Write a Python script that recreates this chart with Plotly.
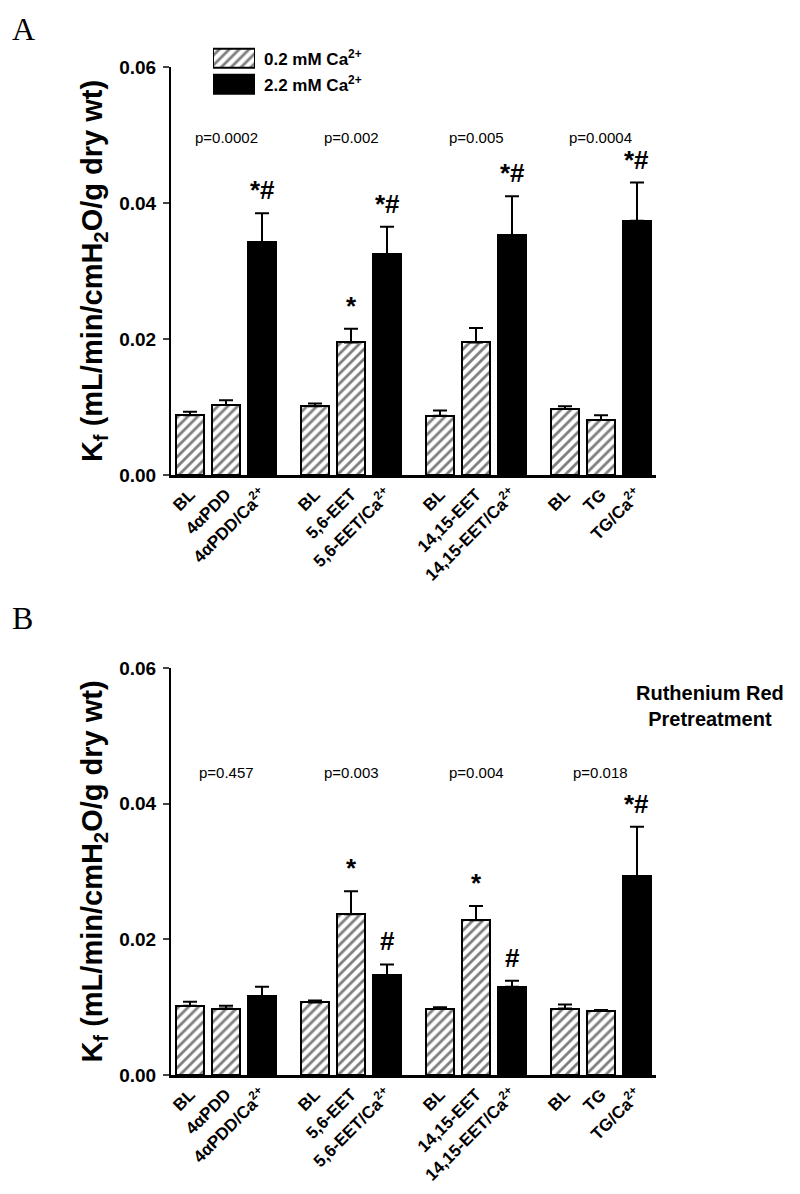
import plotly.graph_objects as go

# ---------------- data ----------------
labels = ["BL", "4αPDD", "4αPDD/Ca<sup>2+</sup>",
          "BL", "5,6-EET", "5,6-EET/Ca<sup>2+</sup>",
          "BL", "14,15-EET", "14,15-EET/Ca<sup>2+</sup>",
          "BL", "TG", "TG/Ca<sup>2+</sup>"]
calcium = ["low", "low", "high"] * 4   # low = 0.2 mM Ca2+, high = 2.2 mM Ca2+

mean_A = [0.0088, 0.0103, 0.0342, 0.0101, 0.0195, 0.0325,
          0.0087, 0.0195, 0.0353, 0.0097, 0.0081, 0.0374]
sem_A = [0.0005, 0.0007, 0.0043, 0.0004, 0.0020, 0.0040,
         0.0008, 0.0021, 0.0057, 0.0004, 0.0007, 0.0056]
sig_A = ["", "", "*#", "", "*", "*#", "", "", "*#", "", "", "*#"]
p_A = ["p=0.0002", "p=0.002", "p=0.005", "p=0.0004"]

mean_B = [0.0102, 0.0098, 0.0116, 0.0107, 0.0237, 0.0147,
          0.0098, 0.0228, 0.0130, 0.0098, 0.0095, 0.0293]
sem_B = [0.0006, 0.0004, 0.0014, 0.0003, 0.0034, 0.0016,
         0.0002, 0.0021, 0.0009, 0.0006, 0.0001, 0.0073]
sig_B = ["", "", "", "", "*", "#", "", "*", "#", "", "", "*#"]
p_B = ["p=0.457", "p=0.003", "p=0.004", "p=0.018"]

legend_names = ["0.2 mM Ca<sup>2+</sup>", "2.2 mM Ca<sup>2+</sup>"]

# ---------------- layout helpers ----------------
W, H = 800, 1194
FONT = "Liberation Sans, Arial, Helvetica, sans-serif"
SERIF = "Liberation Serif, Times New Roman, serif"
GROUP = 3.472  # spacing between groups in bar units


def px_x(p):
    return p / W


def px_y(p):
    return 1 - p / H


xpos = [(k // 3) * GROUP + (k % 3) for k in range(len(labels))]

fig = go.Figure()

panels = [
    dict(mean=mean_A, sem=sem_A, sig=sig_A, p=p_A, py=0.0497, xa="x", ya="y", top=59, bot=467),
    dict(mean=mean_B, sem=sem_B, sig=sig_B, p=p_B, py=0.0446, xa="x2", ya="y2", top=660, bot=1067),
]

hatch = dict(color="white", line=dict(color="black", width=2),
             pattern=dict(shape="/", fgcolor="black", bgcolor="white", size=7, solidity=0.4))
solid = dict(color="black", line=dict(color="black", width=2))

for pn in panels:
    for level, marker in (("low", hatch), ("high", solid)):
        idx = [k for k in range(len(labels)) if calcium[k] == level]
        fig.add_trace(go.Bar(
            x=[xpos[k] for k in idx],
            y=[pn["mean"][k] for k in idx],
            width=0.78,
            marker=marker,
            error_y=dict(type="data", symmetric=False,
                         array=[pn["sem"][k] for k in idx],
                         arrayminus=[0] * len(idx),
                         color="black", thickness=2, width=7),
            xaxis=pn["xa"], yaxis=pn["ya"], showlegend=False,
        ))

# legend swatches on a hidden mini axis
for j, marker in enumerate((hatch, solid)):
    fig.add_trace(go.Bar(
        y=[1 - j], x=[1], orientation="h", width=0.75, marker=marker,
        xaxis="x3", yaxis="y3", showlegend=False,
    ))

axis_common = dict(
    showgrid=False, zeroline=False, showline=True, linecolor="black",
    automargin=False,
)

layout = dict(
    width=W, height=H, margin=dict(l=0, r=0, t=0, b=0),
    paper_bgcolor="white", plot_bgcolor="white",
    bargap=0, showlegend=False,
    font=dict(family=FONT, color="black"),
)

xr = [-0.528, 12.944]
for i, pn in enumerate(panels):
    xk = "xaxis" if i == 0 else "xaxis2"
    yk = "yaxis" if i == 0 else "yaxis2"
    layout[xk] = dict(
        axis_common, domain=[px_x(163), px_x(648)], range=xr,
        anchor=pn["ya"], linewidth=3, ticks="",
        tickmode="array", tickvals=xpos, ticktext=labels, tickangle=-45,
        tickfont=dict(family=FONT, size=17, weight="bold", color="black"),
    )
    layout[yk] = dict(
        axis_common, domain=[px_y(pn["bot"]), px_y(pn["top"])], range=[0, 0.06],
        anchor=pn["xa"], linewidth=2, ticks="outside", ticklen=6, tickwidth=2,
        ticklabelstandoff=3,
        tickmode="array", tickvals=[0, 0.02, 0.04, 0.06],
        ticktext=["0.00", "0.02", "0.04", "0.06"],
        tickfont=dict(family=FONT, size=19, weight="bold", color="black"),
        title=dict(text="K<sub>f</sub> (mL/min/cmH<sub>2</sub>O/g dry wt)",
                   font=dict(family=FONT, size=29, weight="bold", color="black"),
                   standoff=8),
    )

layout["xaxis3"] = dict(domain=[px_x(205), px_x(247)], range=[0, 1], visible=False, anchor="y3")
layout["yaxis3"] = dict(domain=[px_y(88.75), px_y(37.75)], range=[-0.5, 1.5], visible=False, anchor="x3")

fig.update_layout(**layout)

annotations = []
# panel letters
for letter, ypx in (("A", 1), ("B", 590)):
    annotations.append(dict(text=letter, xref="paper", yref="paper", x=px_x(2), y=px_y(ypx),
                            xanchor="left", yanchor="top", showarrow=False,
                            font=dict(family=SERIF, size=32)))
# legend text
for name, ypx in zip(legend_names, (50.5, 76)):
    annotations.append(dict(text="<b>" + name + "</b>", xref="paper", yref="paper",
                            x=px_x(254), y=px_y(ypx), xanchor="left", yanchor="middle",
                            showarrow=False, font=dict(family=FONT, size=17)))
# ruthenium red note
annotations.append(dict(text="<b>Ruthenium Red<br>Pretreatment</b>", xref="paper", yref="paper",
                        x=px_x(702), y=px_y(698), xanchor="center", yanchor="middle",
                        showarrow=False, align="center",
                        font=dict(family=FONT, size=20)))

for pn in panels:
    # p values, centred over each group
    for g, ptxt in enumerate(pn["p"]):
        annotations.append(dict(text=ptxt, xref=pn["xa"], yref=pn["ya"],
                                x=xpos[g * 3 + 1], y=pn["py"],
                                xanchor="center", yanchor="middle", showarrow=False,
                                font=dict(family=FONT, size=15)))
    # significance marks
    for k, s in enumerate(pn["sig"]):
        if s:
            annotations.append(dict(text="<b>" + s + "</b>", xref=pn["xa"], yref=pn["ya"],
                                    x=xpos[k], y=pn["mean"][k] + pn["sem"][k],
                                    xanchor="center", yanchor="bottom", yshift=6,
                                    showarrow=False, font=dict(family=FONT, size=26)))

fig.update_layout(annotations=annotations)
fig.write_html("out.html")
